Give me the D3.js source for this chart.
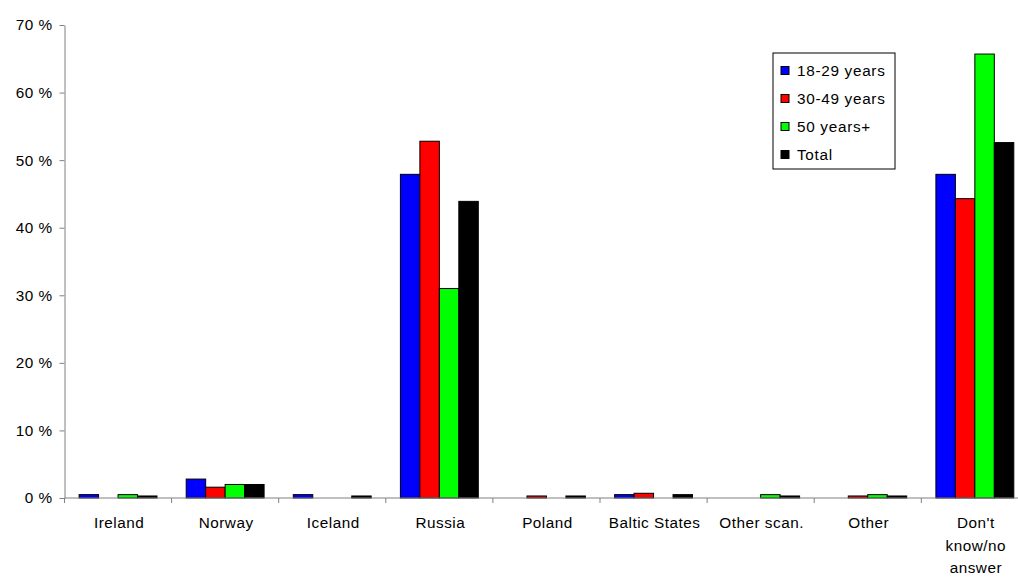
<!DOCTYPE html>
<html>
<head>
<meta charset="utf-8">
<script src="https://cdn.jsdelivr.net/npm/d3@7/dist/d3.min.js"></script>
<style>
  body { margin: 0; background: #fff; }
  svg { display: block; font-family: "Liberation Sans", Arial, sans-serif; }
</style>
</head>
<body>
<svg id="chart" width="1018" height="579"></svg>
<script>
const categories = ["Ireland", "Norway", "Iceland", "Russia", "Poland", "Baltic States", "Other scan.", "Other", "Don't know/no answer"];
const categoryLines = [["Ireland"], ["Norway"], ["Iceland"], ["Russia"], ["Poland"], ["Baltic States"], ["Other scan."], ["Other"], ["Don't", "know/no", "answer"]];
const seriesNames = ["18-29 years", "30-49 years", "50 years+", "Total"];
const seriesColors = ["#0000ff", "#ff0000", "#00ff00", "#000000"];
const age18_29 = [0.5, 2.8, 0.5, 47.9, 0, 0.5, 0, 0, 47.9];
const age30_49 = [0, 1.6, 0, 52.8, 0.3, 0.7, 0, 0.3, 44.3];
const age50plus = [0.5, 2.0, 0, 31.0, 0, 0, 0.5, 0.5, 65.7];
const total = [0.3, 2.0, 0.3, 43.9, 0.3, 0.5, 0.3, 0.3, 52.6];
const yTicks = [0, 10, 20, 30, 40, 50, 60, 70];

const seriesValues = [age18_29, age30_49, age50plus, total];

const svg = d3.select("#chart");
const mLeft = 64.5, mTop = 25, mBottom = 498;
const mRight = mLeft + 9 * 107.1;
const FS = 15.3, LS = 0.5;

const y = d3.scaleLinear().domain([0, 70]).range([mBottom, mTop]);
const x0 = d3.scaleBand().domain(categories).range([mLeft, mRight]).paddingInner(0).paddingOuter(0);
const x1 = d3.scaleBand().domain(seriesNames).range([0, x0.bandwidth()]).paddingInner(0).paddingOuter(0.75);

// bars
categories.forEach((cat, ci) => {
  const g = svg.append("g").attr("transform", `translate(${x0(cat)},0)`);
  seriesNames.forEach((s, si) => {
    const v = seriesValues[si][ci];
    if (v <= 0) return;
    g.append("rect")
      .attr("x", x1(s))
      .attr("y", y(v))
      .attr("width", x1.bandwidth())
      .attr("height", y(0) - y(v))
      .attr("fill", seriesColors[si])
      .attr("stroke", "#000")
      .attr("stroke-width", 1);
  });
});

// y axis
const yAxis = d3.axisLeft(y).tickValues(yTicks).tickFormat(d => d + " %").tickSize(5).tickPadding(7).tickSizeOuter(0);
const yg = svg.append("g").attr("transform", `translate(${mLeft},0)`).call(yAxis);
yg.select(".domain").attr("stroke", "#808080");
yg.selectAll(".tick line").attr("stroke", "#808080");
yg.selectAll(".tick text").attr("font-size", FS).attr("letter-spacing", LS).attr("fill", "#000").attr("font-family", "Liberation Sans, Arial, sans-serif");

// x axis
const xg = svg.append("g").attr("transform", `translate(0,${mBottom})`);
xg.append("line").attr("x1", mLeft).attr("x2", mRight).attr("y1", 0).attr("y2", 0).attr("stroke", "#808080");
const tickPos = categories.map(c => x0(c)).concat([mRight]);
tickPos.forEach(p => {
  xg.append("line").attr("x1", p).attr("x2", p).attr("y1", 0).attr("y2", 5).attr("stroke", "#808080");
});
categories.forEach((c, ci) => {
  const cx = x0(c) + x0.bandwidth() / 2 + 1;
  const t = xg.append("text")
    .attr("x", cx)
    .attr("y", 30)
    .attr("text-anchor", "middle")
    .attr("font-size", FS)
    .attr("letter-spacing", LS)
    .attr("fill", "#000");
  categoryLines[ci].forEach((line, li) => {
    t.append("tspan").attr("x", cx).attr("dy", li === 0 ? 0 : 22.5).text(line);
  });
});

// legend
const lg = svg.append("g").attr("transform", "translate(773,53)");
lg.append("rect").attr("x", 0).attr("y", 0).attr("width", 122).attr("height", 116).attr("fill", "#fff").attr("stroke", "#000");
seriesNames.forEach((s, i) => {
  const cy = 17.5 + i * 28;
  lg.append("rect").attr("x", 8).attr("y", cy - 4).attr("width", 8).attr("height", 8).attr("fill", seriesColors[i]).attr("stroke", "#000");
  lg.append("text").attr("x", 24).attr("y", cy + 5).attr("font-size", FS).attr("letter-spacing", 0.7).attr("fill", "#000").text(s);
});
</script>
</body>
</html>
